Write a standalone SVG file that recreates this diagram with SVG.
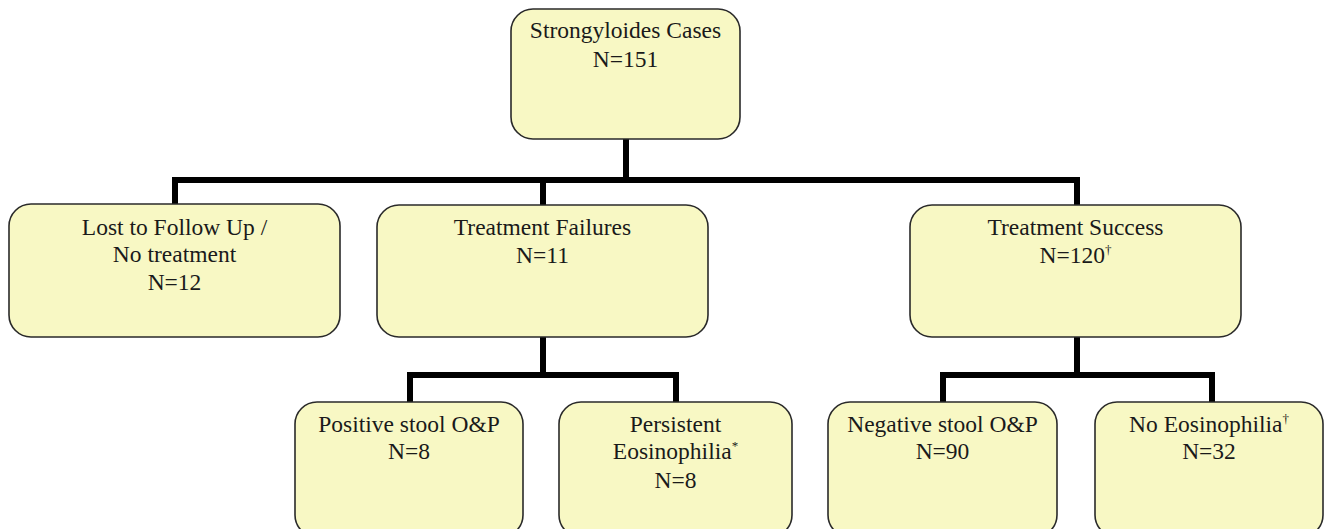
<svg xmlns="http://www.w3.org/2000/svg" width="1331" height="529" viewBox="0 0 1331 529">
<style>
.box{fill:#f8f8c4;stroke:#2a2a2a;stroke-width:1.6}
.t{font-family:"Liberation Serif","Times New Roman",serif;font-size:23.5px;fill:#1a1a1a;text-anchor:middle}
.sup{font-size:13px}
.c{fill:none;stroke:#000;stroke-width:6;stroke-linejoin:miter}
</style>
<rect width="1331" height="529" fill="#fff"/>
<g id="connectors">
<path class="c" d="M626,139 V180"/>
<path class="c" d="M175,204 V180 H1077 V205"/>
<path class="c" d="M543,180 V205"/>
<path class="c" d="M543,337 V375"/>
<path class="c" d="M410,402 V375 H676 V402"/>
<path class="c" d="M1077,337 V375"/>
<path class="c" d="M943,402 V375 H1212 V402"/>
</g>
<g id="root">
<rect class="box" x="511" y="9" width="229" height="130" rx="22"/>
<text class="t" x="625.5" y="38">Strongyloides Cases</text>
<text class="t" x="625.5" y="67">N=151</text>
</g>
<g id="lost">
<rect class="box" x="9" y="204" width="331" height="133" rx="22"/>
<text class="t" x="174.5" y="235">Lost to Follow Up /</text>
<text class="t" x="174.5" y="262">No treatment</text>
<text class="t" x="174.5" y="290">N=12</text>
</g>
<g id="failures">
<rect class="box" x="377" y="205" width="331" height="132" rx="22"/>
<text class="t" x="542.5" y="235">Treatment Failures</text>
<text class="t" x="542.5" y="263">N=11</text>
</g>
<g id="success">
<rect class="box" x="910" y="205" width="331" height="132" rx="22"/>
<text class="t" x="1075.5" y="235">Treatment Success</text>
<text class="t" x="1075.5" y="263">N=120<tspan class="sup" dy="-9">†</tspan></text>
</g>
<g id="positive">
<rect class="box" x="295" y="402" width="228" height="135" rx="22"/>
<text class="t" x="409" y="432">Positive stool O&amp;P</text>
<text class="t" x="409" y="459">N=8</text>
</g>
<g id="persistent">
<rect class="box" x="559" y="402" width="233" height="135" rx="22"/>
<text class="t" x="675.5" y="432">Persistent</text>
<text class="t" x="675.5" y="459">Eosinophilia<tspan class="sup" dy="-9">*</tspan></text>
<text class="t" x="675.5" y="488">N=8</text>
</g>
<g id="negative">
<rect class="box" x="828" y="402" width="229" height="135" rx="22"/>
<text class="t" x="942.5" y="432">Negative stool O&amp;P</text>
<text class="t" x="942.5" y="459">N=90</text>
</g>
<g id="noeos">
<rect class="box" x="1095" y="402" width="228" height="135" rx="22"/>
<text class="t" x="1209" y="432">No Eosinophilia<tspan class="sup" dy="-9">†</tspan></text>
<text class="t" x="1209" y="459">N=32</text>
</g>
</svg>
